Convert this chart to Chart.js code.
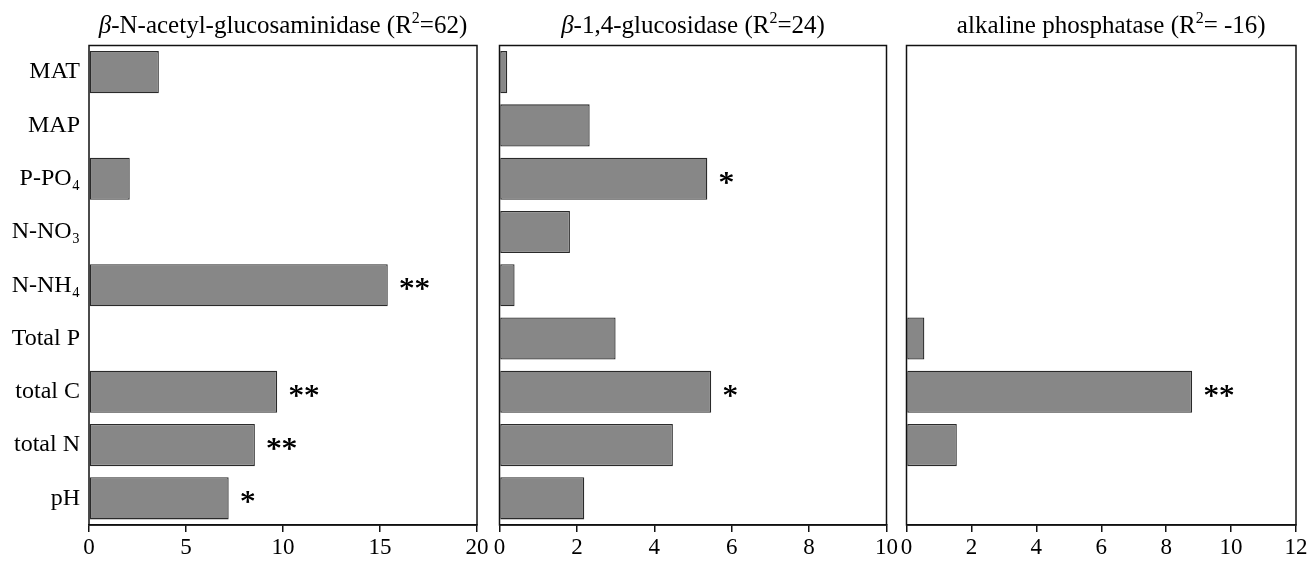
<!DOCTYPE html>
<html>
<head>
<meta charset="utf-8">
<title>Enzyme activity predictors</title>
<script src="https://cdn.jsdelivr.net/npm/chart.js@4.4.1/dist/chart.umd.min.js"></script>
<style>
    html, body { margin: 0; padding: 0; background: #fff; }
    #wrap { position: relative; width: 1315px; height: 561px; }
    #wrap canvas { position: absolute; left: 0; top: 0; }
</style>
</head>
<body>
<div id="wrap">
    <canvas id="nagChart" width="1315" height="561"></canvas>
    <canvas id="bgChart" width="1315" height="561"></canvas>
    <canvas id="apChart" width="1315" height="561"></canvas>
</div>
<script>
// Predictors (same order in all three panels, top to bottom)
const categories = ['MAT', 'MAP', 'P-PO₄', 'N-NO₃', 'N-NH₄', 'Total P', 'total C', 'total N', 'pH'];

// beta-N-acetyl-glucosaminidase
const nagValues = [3.6, null, 2.1, null, 15.4, null, 9.7, 8.55, 7.2];
const nagStars  = ['', '', '', '', '**', '', '**', '**', '*'];
const nagTicks  = [0, 5, 10, 15, 20];

// beta-1,4-glucosidase
const bgValues = [0.2, 2.33, 5.37, 1.82, 0.39, 3.0, 5.47, 4.48, 2.19];
const bgStars  = ['', '', '*', '', '', '', '*', '', ''];
const bgTicks  = [0, 2, 4, 6, 8, 10];

// alkaline phosphatase
const apValues = [null, null, null, null, null, 0.55, 8.8, 1.55, null];
const apStars  = ['', '', '', '', '', '', '**', '', ''];
const apTicks  = [0, 2, 4, 6, 8, 10, 12];

// Panel titles: [text, style]
const nagTitle = [['β', 'italic'], ['-N-acetyl-glucosaminidase (R', ''], ['2', 'sup'], ['=62)', '']];
const bgTitle  = [['β', 'italic'], ['-1,4-glucosidase (R', ''], ['2', 'sup'], ['=24)', '']];
const apTitle  = [['alkaline phosphatase (R', ''], ['2', 'sup'], ['= -16)', '']];

const SERIF = '"Liberation Serif", "Times New Roman", serif';
const BAR_FILL = '#878787';
const BAR_EDGE = '#2a2a2a';

// Box around the plot area, stars next to bars, and the mixed-style title
const panelDecor = {
    id: 'panelDecor',
    afterDatasetsDraw(chart, args, opts) {
        const ctx = chart.ctx;
        const area = chart.chartArea;
        ctx.save();

        ctx.strokeStyle = '#111';
        ctx.lineWidth = 1.5;
        ctx.strokeRect(area.left, area.top, area.right - area.left, area.bottom - area.top);

        // significance stars
        const meta = chart.getDatasetMeta(0);
        ctx.fillStyle = '#000';
        ctx.font = '31px ' + SERIF;
        ctx.textAlign = 'left';
        ctx.textBaseline = 'alphabetic';
        opts.stars.forEach((s, i) => {
            if (!s) return;
            const el = meta.data[i];
            const m = ctx.measureText(s);
            const y = el.y + (m.actualBoundingBoxAscent - m.actualBoundingBoxDescent) / 2 - 1;
            ctx.fillText(s, el.x + 11, y);
            ctx.fillText(s, el.x + 11.6, y);
        });

        // title
        const fontFor = style => style === 'italic' ? 'italic 25px ' + SERIF
            : style === 'sup' ? '16px ' + SERIF : '25px ' + SERIF;
        let total = 0;
        opts.title.forEach(([t, style]) => {
            ctx.font = fontFor(style);
            total += ctx.measureText(t).width;
        });
        let x = (area.left + area.right) / 2 - total / 2 + (opts.titleShift || 0);
        const base = 33;
        opts.title.forEach(([t, style]) => {
            ctx.font = fontFor(style);
            ctx.fillText(t, x, style === 'sup' ? base - 10 : base);
            x += ctx.measureText(t).width;
        });

        ctx.restore();
    }
};

function createPanel(canvasId, values, stars, ticks, title, left, right, showLabels, titleShift) {
    const ctx = document.getElementById(canvasId);
    return new Chart(ctx, {
        type: 'bar',
        data: {
            labels: categories,
            datasets: [{
                data: values,
                backgroundColor: BAR_FILL,
                borderColor: BAR_EDGE,
                borderWidth: 1.3,
                borderSkipped: false,
                categoryPercentage: 1,
                barPercentage: 0.79
            }]
        },
        plugins: [panelDecor],
        options: {
            indexAxis: 'y',
            responsive: false,
            devicePixelRatio: 1,
            animation: false,
            events: [],
            layout: {
                padding: { left: showLabels ? 0 : left, right: 1315 - right, top: 45.5, bottom: 0 }
            },
            plugins: {
                legend: { display: false },
                tooltip: { enabled: false },
                panelDecor: { stars: stars, title: title, titleShift: titleShift }
            },
            scales: {
                x: {
                    type: 'linear',
                    min: ticks[0],
                    max: ticks[ticks.length - 1],
                    afterBuildTicks: scale => { scale.ticks = ticks.map(v => ({ value: v })); },
                    afterFit: scale => { scale.height = 36; },
                    ticks: {
                        color: '#000',
                        font: { family: SERIF, size: 23 },
                        padding: 2,
                        maxRotation: 0,
                        autoSkip: false
                    },
                    grid: {
                        display: true,
                        drawOnChartArea: false,
                        drawTicks: true,
                        tickLength: 7,
                        color: '#111',
                        lineWidth: 1.5
                    },
                    border: { display: true, color: '#111', width: 1.5 }
                },
                y: {
                    display: showLabels,
                    afterFit: scale => { scale.width = showLabels ? left : 0; },
                    ticks: {
                        color: '#000',
                        font: { family: SERIF, size: 24 },
                        padding: 9
                    },
                    grid: { display: false, drawTicks: false },
                    border: { display: false }
                }
            }
        }
    });
}

createPanel('nagChart', nagValues, nagStars, nagTicks, nagTitle, 89, 477, true, 0);
createPanel('bgChart', bgValues, bgStars, bgTicks, bgTitle, 499.5, 886.5, false, 0);
createPanel('apChart', apValues, apStars, apTicks, apTitle, 906.5, 1296, false, 10);
</script>
</body>
</html>
